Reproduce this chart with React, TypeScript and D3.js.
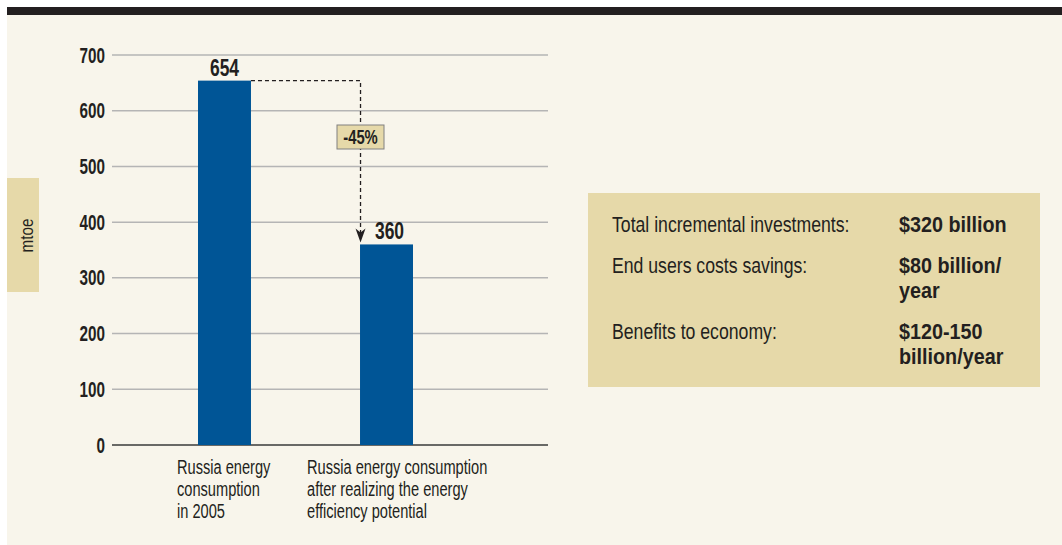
import React from "react";
import * as d3 from "d3";

const categories = [
  ["Russia energy", "consumption", "in 2005"],
  ["Russia energy consumption", "after realizing the energy", "efficiency potential"],
];
const values = [654, 360];
const yTicks = [0, 100, 200, 300, 400, 500, 600, 700];
const changeLabel = "-45%";
const unitLabel = "mtoe";
const infoLabels = ["Total incremental investments:", "End users costs savings:", "Benefits to economy:"];
const infoValues = [["$320 billion"], ["$80 billion/", "year"], ["$120-150", "billion/year"]];

const W = 1062;
const H = 545;
const FONT = "'Liberation Sans', Arial, Helvetica, sans-serif";
const TEXT = "#231f20";
const BLUE = "#005596";
const TAN = "#e6d9a9";

type CTProps = {
  x: number;
  y: number;
  sx: number;
  size: number;
  bold?: boolean;
  anchor?: "start" | "middle" | "end";
  rotate?: number;
  lines: string[];
  lh?: number;
};

function CText({ x, y, sx, size, bold, anchor = "start", rotate = 0, lines, lh = 0 }: CTProps) {
  return (
    <text
      transform={`translate(${x},${y}) rotate(${rotate}) scale(${sx},1)`}
      textAnchor={anchor}
      fontFamily={FONT}
      fontWeight={bold ? "bold" : "normal"}
      fontSize={size}
      fill={TEXT}
    >
      {lines.map((l, j) => (
        <tspan key={j} x={0} y={j * lh}>
          {l}
        </tspan>
      ))}
    </text>
  );
}

export default function App() {
  const keys = categories.map((c) => c.join(" "));
  const y = d3.scaleLinear().domain([0, 700]).range([445, 55]);
  const x = d3.scaleBand<string>().domain(keys).range([198, 413]).paddingInner(0.673).paddingOuter(0);
  const bw = x.bandwidth();

  const x0 = x(keys[0])! + bw;
  const xArrow = x(keys[1])! + 0.5;
  const yTop = y(values[0]);
  const yTip = y(values[1]) - 2;

  let lineCount = 0;
  const infoRows = infoLabels.map((lab, i) => {
    const base = 232 + i * 41 + lineCount * 25;
    lineCount += infoValues[i].length - 1;
    return { lab, vals: infoValues[i], base };
  });

  return (
    <svg width={W} height={H} style={{ position: "absolute", left: 0, top: 0 }}>
      <rect x={0} y={0} width={W} height={H} fill="#ffffff" />
      <rect x={7} y={7} width={W - 7} height={H - 7} fill="#f8f5eb" />
      <rect x={7} y={7} width={W - 7} height={8} fill={TEXT} />

      {/* unit box */}
      <rect x={7} y={178} width={32} height={114} fill={TAN} />
      <CText x={32.5} y={235.5} rotate={-90} sx={0.8} size={19} anchor="middle" lines={[unitLabel]} />

      {/* grid */}
      {yTicks.map((t) => (
        <g key={t}>
          <line
            x1={112}
            x2={548}
            y1={y(t)}
            y2={y(t)}
            stroke={t === 0 ? "#3a3a3a" : "#b5b5b5"}
            strokeWidth={1.5}
          />
          <CText x={105} y={y(t) + 7.5} sx={0.71} size={21.5} bold anchor="end" lines={[String(t)]} />
        </g>
      ))}

      {/* bars */}
      {values.map((v, i) => (
        <rect key={i} x={x(keys[i])} y={y(v)} width={bw} height={y(0) - y(v)} fill={BLUE} />
      ))}
      <CText x={x(keys[0])! + bw / 2} y={y(values[0]) - 5} sx={0.76} size={23} bold anchor="middle" lines={[String(values[0])]} />
      <CText x={x(keys[1])! + bw / 2 + 3} y={y(values[1]) - 5} sx={0.76} size={23} bold anchor="middle" lines={[String(values[1])]} />

      {/* dashed arrow */}
      <path
        d={`M${x0},${yTop} H${xArrow} V${yTip - 8}`}
        fill="none"
        stroke={TEXT}
        strokeWidth={1.3}
        strokeDasharray="4,3"
      />
      <path
        d={`M${xArrow},${yTip} L${xArrow - 5},${yTip - 14} L${xArrow},${yTip - 10} L${xArrow + 5},${yTip - 14} Z`}
        fill={TEXT}
      />
      <rect x={337} y={125} width={47} height={24} fill={TAN} stroke="#808080" strokeWidth={1} />
      <CText x={360.5} y={144} sx={0.76} size={19.5} bold anchor="middle" lines={[changeLabel]} />

      {/* category labels */}
      {categories.map((lines, i) => (
        <CText key={i} x={i === 0 ? 177 : 307} y={474} sx={0.75} size={19.5} lines={lines} lh={21.8} />
      ))}

      {/* info box */}
      <rect x={588} y={193} width={452} height={194} fill={TAN} />
      {infoRows.map((r, i) => (
        <g key={i}>
          <CText x={612} y={r.base} sx={0.81} size={21.8} lines={[r.lab]} />
          <CText x={899} y={r.base} sx={0.92} size={21.5} bold lines={r.vals} lh={25} />
        </g>
      ))}
    </svg>
  );
}
